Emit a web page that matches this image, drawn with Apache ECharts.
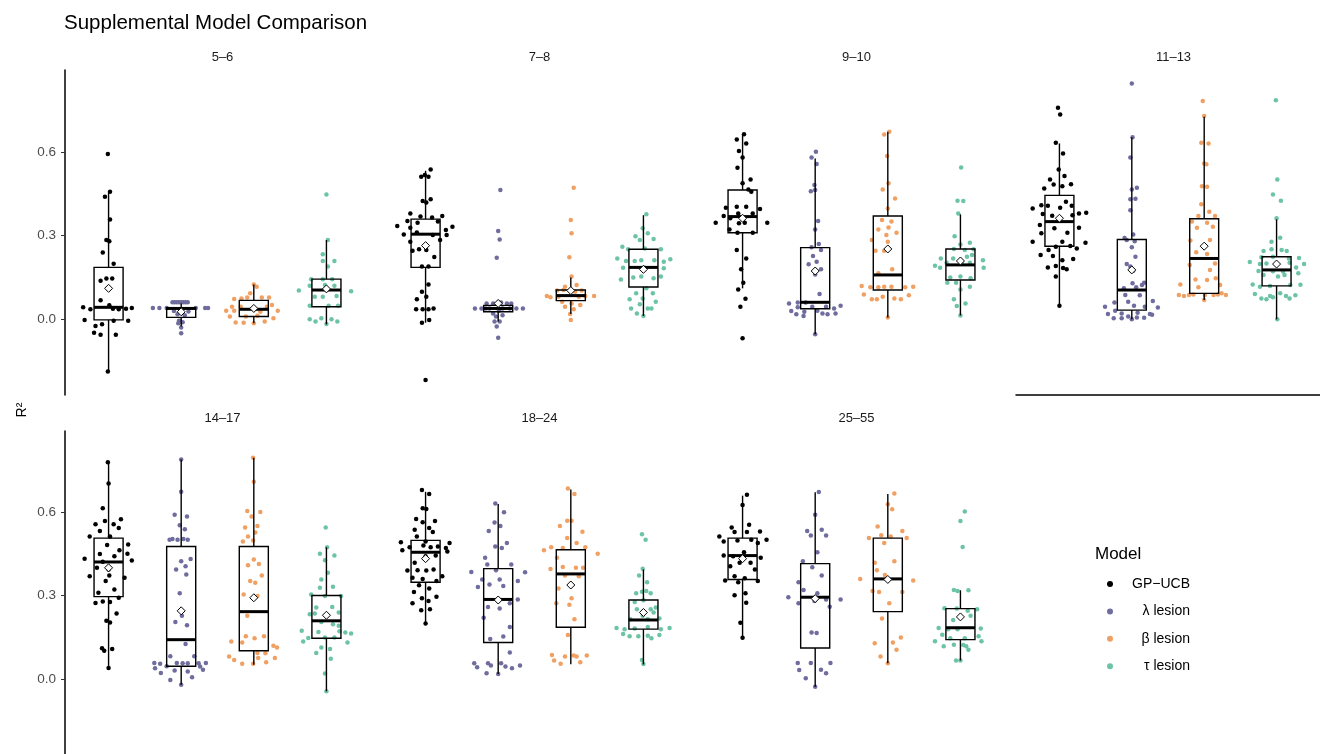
<!DOCTYPE html>
<html>
<head>
<meta charset="utf-8">
<script src="https://cdn.jsdelivr.net/npm/echarts@6/dist/echarts.min.js"></script>
<style>html,body{margin:0;padding:0;background:#fff}#c{width:1320px;height:754px}</style>
</head>
<body>
<div id="c"></div>
<script>
// ---------------- DATA ----------------
const panels = ['5–6', '7–8', '9–10', '11–13', '14–17', '18–24', '25–55'];
const models = ['GP−UCB', 'λ lesion', 'β lesion', 'τ lesion'];
const modelColors = ['#000000', '#6f6c9e', '#f0a062', '#6cc4a4'];
const yTicks = [0, 0.3, 0.6];

// points per panel: [jitter offset, R²]
const gpucbPoints = [
 [[-0.01,0.592],[0.02,0.457],[-0.05,0.439],[0.02,0.358],[-0.03,0.284],[0.01,0.280],[-0.08,0.239],[0.07,0.199],[-0.11,0.138],[-0.03,0.146],[0.05,0.146],[-0.11,0.068],[0.01,0.050],[-0.35,0.043],[-0.25,0.036],[0.14,0.036],[0.24,0.038],[0.32,0.041],[0.06,0.038],[-0.33,-0.002],[0.27,-0.005],[0.07,-0.005],[-0.09,-0.018],[-0.18,-0.024],[-0.2,-0.048],[-0.11,-0.055],[0.1,-0.055],[-0.01,-0.187]],
 [[0.07,0.537],[-0.01,0.517],[-0.06,0.511],[0.04,0.511],[-0.04,0.424],[0.07,0.430],[0.01,0.418],[-0.21,0.379],[-0.07,0.368],[0.09,0.365],[0.23,0.37],[-0.25,0.352],[-0.11,0.346],[0.17,0.35],[-0.39,0.334],[-0.21,0.328],[0.37,0.332],[0.28,0.32],[-0.3,0.304],[-0.12,0.311],[0.1,0.302],[0.29,0.302],[-0.21,0.278],[0.2,0.284],[-0.18,0.246],[-0.09,0.251],[0.01,0.248],[0.12,0.223],[-0.05,0.189],[0.04,0.189],[0.04,0.125],[-0.05,0.099],[0.01,0.081],[-0.12,0.072],[-0.13,0.036],[-0.04,0.036],[0.04,0.036],[0.11,0.039],[-0.05,-0.012],[0.05,-0.002],[0,-0.217]],
 [[0.02,0.663],[-0.08,0.644],[0.05,0.63],[-0.05,0.603],[0,0.58],[-0.07,0.543],[0.11,0.501],[0,0.487],[0.08,0.465],[0.12,0.457],[-0.23,0.4],[-0.08,0.403],[0.05,0.403],[0.24,0.395],[-0.26,0.37],[-0.17,0.362],[-0.06,0.379],[0.14,0.379],[-0.37,0.346],[-0.05,0.344],[0.03,0.346],[0.34,0.346],[-0.18,0.322],[-0.07,0.31],[0.14,0.31],[-0.08,0.248],[0.05,0.218],[-0.02,0.179],[0.01,0.131],[-0.06,0.107],[0.04,0.074],[-0.03,0.045],[0,-0.068]],
 [[-0.02,0.758],[0.01,0.734],[-0.05,0.632],[0.05,0.594],[-0.01,0.537],[0.07,0.513],[-0.13,0.501],[-0.21,0.469],[-0.08,0.483],[0.04,0.477],[0.16,0.484],[0.09,0.421],[-0.25,0.409],[-0.16,0.407],[0.17,0.407],[-0.37,0.397],[0.01,0.4],[0.37,0.382],[0.27,0.379],[-0.23,0.377],[-0.1,0.371],[0.18,0.373],[-0.27,0.338],[-0.07,0.326],[0.27,0.328],[-0.25,0.308],[0.11,0.31],[-0.37,0.278],[0.04,0.278],[0.36,0.274],[-0.15,0.248],[-0.05,0.26],[0.15,0.263],[0.24,0.254],[-0.26,0.23],[0.19,0.216],[-0.09,0.227],[0.04,0.212],[-0.16,0.186],[-0.05,0.191],[0.05,0.184],[0.1,0.179],[-0.05,0.153],[0,0.049]],
 [[-0.01,0.78],[0,0.704],[-0.08,0.615],[-0.05,0.569],[0.17,0.575],[0.07,0.557],[-0.18,0.557],[-0.12,0.533],[0.14,0.543],[-0.26,0.513],[0.02,0.513],[0.27,0.484],[-0.02,0.482],[-0.33,0.433],[-0.12,0.45],[0.08,0.442],[0.15,0.463],[0.26,0.451],[0.32,0.426],[-0.16,0.4],[-0.08,0.422],[0,0.394],[-0.26,0.37],[0.01,0.372],[0.22,0.364],[-0.04,0.352],[0.08,0.322],[-0.14,0.31],[-0.18,0.273],[-0.08,0.279],[0.02,0.277],[0.14,0.292],[0.11,0.235],[-0.03,0.209],[0.02,0.203],[-0.09,0.11],[-0.06,0.101],[0.05,0.107],[0,0.039]],
 [[-0.05,0.68],[0.05,0.666],[-0.04,0.615],[0.01,0.612],[-0.13,0.576],[0.13,0.569],[-0.04,0.564],[-0.15,0.537],[0.05,0.543],[0.1,0.529],[-0.12,0.513],[-0.34,0.492],[-0.22,0.474],[0,0.495],[-0.03,0.48],[0.17,0.477],[0.28,0.471],[0.33,0.489],[-0.32,0.463],[0.07,0.474],[0.3,0.459],[-0.15,0.418],[0,0.442],[0.14,0.444],[-0.25,0.39],[-0.11,0.391],[0.01,0.39],[0.11,0.394],[0.23,0.37],[-0.18,0.364],[-0.04,0.36],[0.15,0.352],[-0.09,0.337],[0.05,0.325],[-0.16,0.313],[-0.05,0.29],[0.15,0.296],[-0.18,0.272],[0.04,0.28],[-0.06,0.247],[0.06,0.251],[0,0.199]],
 [[0.06,0.663],[0,0.626],[-0.15,0.545],[0.09,0.555],[-0.32,0.513],[-0.11,0.529],[0.06,0.529],[0.24,0.531],[-0.26,0.495],[-0.07,0.498],[0.12,0.501],[0.33,0.501],[0.21,0.489],[-0.26,0.444],[-0.13,0.442],[0.02,0.456],[0.25,0.436],[-0.17,0.406],[-0.04,0.418],[0.11,0.418],[0.17,0.394],[-0.11,0.37],[0.03,0.362],[-0.24,0.354],[-0.06,0.348],[0.21,0.352],[-0.11,0.301],[0.04,0.308],[0.05,0.274],[-0.03,0.202],[0,0.148]]
];
const lambdaPoints = [
 [[-0.12,0.061],[-0.09,0.061],[-0.06,0.061],[-0.03,0.061],[0.0,0.061],[0.03,0.061],[0.06,0.061],[0.09,0.061],[-0.39,0.041],[-0.3,0.041],[-0.2,0.041],[0.2,0.041],[0.33,0.041],[0.37,0.041],[-0.1,0.03],[0.1,0.028],[-0.05,0.018],[0.05,0.015],[-0.03,-0.005],[0.02,-0.01],[-0.04,-0.014],[0.0,-0.029],[0.0,-0.05]],
 [[0.03,0.463],[0,0.316],[0.02,0.286],[-0.02,0.221],[-0.07,0.057],[0.04,0.06],[0.12,0.057],[0.18,0.057],[-0.32,0.039],[-0.23,0.039],[-0.17,0.039],[-0.12,0.039],[0.06,0.039],[0.16,0.039],[0.25,0.039],[0.34,0.039],[-0.07,0.021],[0.06,0.015],[-0.03,0.01],[-0.05,-0.008],[0.02,-0.008],[-0.02,-0.026],[0,-0.066],[-0.16,0.057],[0.01,0.031]],
 [[0.01,0.6],[-0.05,0.58],[0.02,0.556],[-0.01,0.481],[-0.06,0.459],[0,0.463],[0.04,0.352],[0,0.322],[0.05,0.27],[-0.05,0.258],[0.08,0.248],[-0.03,0.227],[0.02,0.206],[-0.09,0.197],[0.08,0.179],[0,0.161],[0.06,0.091],[-0.36,0.057],[-0.24,0.06],[-0.13,0.06],[-0.24,0.043],[-0.04,0.045],[0.15,0.045],[0.35,0.049],[-0.33,0.03],[-0.15,0.027],[0.03,0.031],[0.26,0.039],[-0.26,0.018],[-0.16,0.012],[0.1,0.021],[0.17,0.018],[0.28,0.021],[0,-0.053]],
 [[0,0.845],[0.01,0.652],[-0.02,0.58],[0,0.465],[0.07,0.471],[-0.02,0.43],[0.05,0.432],[-0.02,0.391],[0.02,0.304],[-0.1,0.291],[-0.07,0.284],[0.04,0.28],[0,0.258],[0.05,0.224],[-0.07,0.198],[0.02,0.174],[-0.02,0.189],[-0.11,0.111],[0.01,0.129],[0.14,0.123],[0.17,0.131],[0.06,0.115],[-0.09,0.087],[0.11,0.086],[-0.37,0.045],[-0.24,0.06],[-0.05,0.063],[0.03,0.049],[0.18,0.045],[0.29,0.066],[0.36,0.042],[-0.33,0.019],[-0.23,0.031],[-0.14,0.021],[0.08,0.024],[0.25,0.019],[0.28,0.016],[-0.25,0.004],[-0.14,0.004],[-0.05,0.01],[0.07,0.007],[0.17,0.006],[0,0.0]],
 [[0,0.79],[0,0.674],[-0.09,0.591],[0.08,0.585],[-0.02,0.553],[0.05,0.539],[-0.16,0.501],[-0.12,0.504],[-0.05,0.501],[0.03,0.504],[0.09,0.501],[0,0.424],[0.13,0.432],[-0.07,0.394],[0.06,0.406],[0.07,0.376],[-0.02,0.308],[-0.08,0.205],[0.08,0.193],[0.01,0.227],[0.06,0.125],[-0.15,0.081],[0.18,0.081],[-0.37,0.057],[-0.29,0.054],[-0.06,0.057],[0.02,0.056],[0.09,0.056],[0.24,0.056],[0.34,0.057],[-0.36,0.038],[-0.2,0.045],[-0.09,0.03],[0.09,0.026],[0.26,0.044],[0.3,0.033],[-0.28,0.021],[0.15,0.006],[-0.15,-0.004],[0,-0.021]],
 [[-0.04,0.632],[0.08,0.6],[-0.05,0.563],[0.03,0.551],[-0.13,0.533],[-0.04,0.477],[0.05,0.471],[0.12,0.489],[-0.18,0.436],[-0.15,0.412],[0.18,0.412],[-0.37,0.385],[-0.03,0.391],[0.37,0.384],[-0.22,0.358],[0.02,0.358],[0.27,0.352],[-0.28,0.331],[-0.12,0.34],[0.07,0.334],[0.27,0.286],[-0.14,0.259],[0.02,0.253],[0.16,0.272],[-0.2,0.22],[0.16,0.187],[-0.11,0.143],[0.07,0.152],[0.16,0.095],[-0.33,0.056],[-0.14,0.056],[0.04,0.056],[-0.29,0.042],[-0.1,0.048],[0.1,0.044],[0.19,0.038],[0.3,0.048],[-0.16,0.02],[0,0.017]],
 [[0.05,0.673],[0,0.591],[-0.11,0.533],[0.09,0.537],[-0.06,0.516],[0.15,0.516],[0.03,0.456],[-0.17,0.424],[-0.04,0.402],[0.09,0.372],[-0.23,0.348],[-0.16,0.32],[0.03,0.308],[-0.01,0.28],[0.15,0.286],[-0.37,0.294],[0.35,0.286],[0.2,0.26],[-0.23,0.272],[-0.05,0.167],[0.02,0.165],[-0.24,0.057],[-0.06,0.057],[0.21,0.057],[-0.22,0.032],[0.08,0.033],[0.15,0.02],[-0.13,0.002],[0,-0.029]]
];
const betaPoints = [
 [[0,0.125],[0.04,0.117],[-0.05,0.093],[-0.27,0.073],[-0.17,0.075],[-0.09,0.078],[0.11,0.078],[0.21,0.078],[-0.3,0.045],[-0.18,0.045],[0.18,0.045],[0.25,0.051],[-0.38,0.031],[-0.27,0.031],[0.09,0.027],[0.33,0.031],[-0.33,0.01],[-0.11,0.01],[0.05,0.013],[0.27,0.004],[-0.25,-0.011],[-0.14,-0.012],[0,-0.014],[0.15,-0.008]],
 [[0.04,0.471],[0,0.356],[0.01,0.308],[-0.02,0.222],[0.01,0.153],[-0.08,0.117],[0.08,0.123],[-0.19,0.103],[-0.1,0.105],[0.06,0.099],[0.15,0.103],[-0.33,0.084],[-0.28,0.079],[-0.17,0.081],[0.11,0.081],[0.2,0.084],[0.32,0.084],[-0.12,0.063],[0.01,0.057],[0.13,0.051],[-0.08,0.045],[0.04,0.036],[-0.01,0.019],[0,-0.002]],
 [[-0.05,0.662],[0.02,0.672],[-0.01,0.585],[0.01,0.487],[-0.07,0.465],[0.1,0.433],[0,0.397],[-0.08,0.356],[0.05,0.35],[-0.13,0.322],[0.01,0.329],[-0.02,0.302],[0.12,0.31],[-0.22,0.284],[0,0.278],[-0.17,0.246],[-0.05,0.246],[0.06,0.179],[-0.13,0.165],[-0.36,0.119],[-0.24,0.115],[-0.13,0.115],[-0.05,0.117],[0.05,0.117],[0.24,0.115],[0.35,0.117],[-0.33,0.089],[-0.22,0.072],[-0.15,0.072],[-0.07,0.081],[0.09,0.075],[0.18,0.072],[0.29,0.086],[0,0.007]],
 [[-0.02,0.782],[0,0.728],[-0.04,0.632],[0.06,0.63],[0,0.558],[0.03,0.555],[-0.03,0.477],[0.04,0.475],[-0.04,0.412],[0.07,0.385],[-0.08,0.37],[0.15,0.37],[-0.17,0.35],[0.04,0.346],[-0.1,0.328],[0.12,0.332],[-0.19,0.282],[0.08,0.284],[-0.11,0.24],[0.04,0.234],[-0.2,0.195],[0.15,0.2],[0.08,0.177],[-0.12,0.143],[0.04,0.141],[0.16,0.147],[-0.33,0.125],[-0.08,0.115],[0.22,0.123],[-0.35,0.087],[-0.28,0.084],[-0.21,0.087],[-0.15,0.089],[0.01,0.087],[0.13,0.087],[0.19,0.089],[0.3,0.087],[0.24,0.093],[0,0.069]],
 [[-0.01,0.797],[0,0.71],[-0.09,0.605],[0.09,0.601],[-0.03,0.585],[-0.12,0.545],[0.05,0.551],[-0.08,0.513],[0.02,0.527],[-0.15,0.495],[-0.01,0.498],[0,0.43],[0.07,0.414],[-0.08,0.409],[0.11,0.372],[-0.05,0.352],[0.02,0.346],[-0.14,0.304],[0.05,0.298],[-0.09,0.227],[-0.11,0.153],[0.01,0.146],[0.14,0.153],[-0.31,0.134],[-0.16,0.131],[0.27,0.119],[0.32,0.113],[-0.34,0.08],[-0.27,0.068],[0.05,0.093],[0.06,0.075],[0.16,0.092],[0.29,0.075],[-0.16,0.054],[-0.01,0.054],[0.17,0.06]],
 [[-0.04,0.686],[0.05,0.666],[-0.05,0.57],[0.01,0.57],[-0.15,0.551],[0.16,0.53],[-0.05,0.507],[0.08,0.489],[-0.37,0.463],[-0.27,0.474],[-0.11,0.471],[0.2,0.474],[0.37,0.451],[-0.19,0.436],[-0.28,0.396],[-0.11,0.403],[0.07,0.4],[0.17,0.4],[-0.08,0.372],[0.11,0.37],[-0.17,0.325],[0.01,0.29],[-0.2,0.272],[-0.02,0.267],[0.05,0.215],[-0.04,0.158],[-0.26,0.086],[-0.08,0.08],[0.04,0.084],[0.08,0.08],[0.22,0.084],[-0.23,0.066],[-0.14,0.054],[0.13,0.06]],
 [[0.09,0.668],[0,0.629],[0.06,0.611],[-0.14,0.549],[0.2,0.533],[-0.09,0.517],[0.04,0.513],[-0.26,0.507],[0.26,0.507],[-0.05,0.489],[-0.18,0.418],[0.09,0.424],[-0.15,0.391],[-0.04,0.374],[-0.38,0.36],[0.35,0.354],[-0.21,0.316],[-0.12,0.313],[0.2,0.313],[0.02,0.272],[-0.08,0.217],[0.18,0.149],[0.07,0.131],[-0.18,0.128],[0.12,0.105],[-0.1,0.08],[0,0.056]]
];
const tauPoints = [
 [[0,0.447],[0.02,0.284],[-0.05,0.233],[-0.05,0.209],[0.11,0.209],[0.02,0.189],[-0.21,0.144],[-0.05,0.144],[0.08,0.144],[-0.23,0.12],[-0.02,0.123],[0.11,0.12],[-0.38,0.103],[0.34,0.101],[-0.16,0.081],[-0.05,0.081],[0.14,0.084],[-0.23,0.049],[0.03,0.049],[0.16,0.049],[-0.23,0.0],[-0.07,0.004],[0.07,0.0],[-0.15,-0.008],[0,-0.017],[0.15,-0.008]],
 [[0.04,0.376],[-0.01,0.326],[-0.11,0.298],[0.06,0.308],[-0.05,0.284],[0.14,0.288],[-0.29,0.26],[-0.21,0.251],[0.02,0.254],[0.24,0.251],[-0.36,0.218],[-0.24,0.209],[-0.12,0.209],[-0.03,0.212],[0.15,0.212],[0.37,0.215],[0.28,0.206],[-0.28,0.185],[0.01,0.186],[0.28,0.183],[-0.14,0.15],[-0.03,0.153],[-0.31,0.143],[0.14,0.147],[0.24,0.153],[-0.1,0.093],[0.13,0.093],[0.04,0.111],[-0.19,0.072],[-0.01,0.075],[0.17,0.063],[-0.05,0.054],[0.06,0.039],[-0.17,0.039],[-0.09,0.021],[0.11,0.039],[0,0.012]],
 [[0.01,0.544],[-0.04,0.425],[0.04,0.424],[-0.03,0.379],[-0.08,0.298],[0,0.268],[0.13,0.274],[-0.09,0.252],[0.06,0.248],[0.18,0.251],[-0.27,0.218],[-0.1,0.218],[0.09,0.224],[0.16,0.23],[-0.35,0.192],[-0.19,0.203],[0.02,0.203],[0.13,0.203],[0.31,0.212],[-0.28,0.185],[0.32,0.185],[-0.14,0.15],[0,0.153],[0.14,0.147],[-0.18,0.131],[-0.06,0.131],[0.13,0.117],[0,0.107],[-0.09,0.072],[0.07,0.057],[-0.05,0.048],[0,0.014]],
 [[-0.01,0.785],[0.01,0.501],[-0.05,0.447],[0.06,0.425],[0,0.362],[-0.07,0.278],[0.05,0.292],[-0.18,0.245],[-0.07,0.251],[0.07,0.248],[0.14,0.245],[-0.21,0.222],[-0.05,0.224],[0.17,0.218],[0.31,0.22],[-0.37,0.205],[-0.23,0.198],[-0.14,0.2],[0.18,0.203],[0.38,0.198],[-0.25,0.173],[-0.05,0.172],[0.09,0.171],[0.27,0.186],[-0.18,0.159],[0.02,0.153],[0.11,0.159],[0.3,0.165],[-0.33,0.125],[-0.23,0.117],[-0.09,0.119],[0.19,0.123],[0.33,0.124],[-0.3,0.091],[-0.09,0.084],[0.05,0.093],[0.13,0.084],[0.26,0.086],[-0.21,0.075],[-0.14,0.072],[-0.05,0.079],[0.18,0.075],[0.01,0.0]],
 [[-0.01,0.545],[0.01,0.474],[-0.09,0.451],[0.11,0.444],[-0.02,0.427],[0.02,0.382],[-0.07,0.358],[0.09,0.332],[-0.09,0.328],[-0.21,0.304],[-0.02,0.298],[0.2,0.298],[-0.14,0.257],[0.08,0.259],[-0.16,0.235],[0.17,0.239],[-0.23,0.233],[-0.07,0.205],[0.17,0.191],[0.09,0.197],[-0.34,0.173],[-0.11,0.169],[0.18,0.171],[0.26,0.167],[0.34,0.163],[-0.32,0.134],[-0.25,0.147],[-0.02,0.149],[0.11,0.149],[0.29,0.131],[-0.07,0.113],[0.05,0.107],[-0.14,0.093],[0.06,0.072],[-0.02,0.019],[0,-0.045]],
 [[-0.02,0.521],[0.03,0.501],[-0.01,0.397],[-0.06,0.372],[0.05,0.348],[-0.02,0.314],[0.04,0.316],[0.1,0.308],[-0.1,0.308],[0,0.283],[0.17,0.257],[-0.12,0.277],[-0.09,0.251],[0.1,0.251],[0.14,0.239],[-0.01,0.227],[-0.18,0.215],[0.06,0.215],[0.22,0.217],[-0.37,0.183],[-0.26,0.179],[-0.12,0.181],[0.06,0.187],[0.24,0.179],[0.36,0.183],[-0.28,0.161],[-0.19,0.153],[-0.07,0.153],[0.06,0.155],[0.11,0.146],[0.22,0.158],[-0.02,0.068],[0,0.053]],
 [[0.06,0.603],[0,0.569],[0.03,0.475],[-0.09,0.32],[-0.04,0.316],[0.11,0.319],[-0.22,0.254],[-0.05,0.253],[0.1,0.245],[0.23,0.251],[-0.1,0.212],[0.14,0.227],[-0.3,0.183],[-0.17,0.179],[-0.04,0.179],[0.28,0.181],[-0.25,0.159],[-0.14,0.146],[0.06,0.146],[0.25,0.153],[-0.35,0.135],[-0.09,0.123],[0.04,0.122],[0.29,0.135],[-0.23,0.117],[0.08,0.117],[0.11,0.105],[-0.06,0.066],[0,0.066]]
];

// box stats per panel: [lower whisker, Q1, median, Q3, upper whisker]
const gpucbBox = [[-0.187,-0.002,0.043,0.186,0.457],[-0.012,0.186,0.305,0.359,0.532],[0.111,0.31,0.368,0.463,0.663],[0.049,0.262,0.35,0.444,0.63],[0.039,0.296,0.421,0.507,0.78],[0.199,0.348,0.456,0.499,0.674],[0.148,0.358,0.444,0.507,0.66]];
const lambdaBox = [[-0.026,0.007,0.039,0.042,0.057],[-0.008,0.027,0.039,0.05,0.069],[-0.053,0.038,0.061,0.257,0.576],[0.0,0.033,0.105,0.286,0.652],[-0.021,0.045,0.141,0.477,0.79],[0.017,0.131,0.286,0.397,0.63],[-0.029,0.111,0.294,0.415,0.672]];
const betaBox = [[-0.014,0.01,0.036,0.068,0.125],[0.019,0.067,0.085,0.105,0.15],[0.007,0.105,0.159,0.37,0.672],[0.069,0.093,0.218,0.36,0.726],[0.051,0.101,0.242,0.477,0.797],[0.052,0.186,0.378,0.465,0.682],[0.056,0.242,0.36,0.507,0.666]];
const tauBox = [[-0.018,0.045,0.105,0.144,0.284],[0.012,0.116,0.186,0.251,0.373],[0.014,0.141,0.195,0.252,0.376],[0.0,0.12,0.177,0.224,0.358],[-0.045,0.146,0.209,0.3,0.474],[0.052,0.179,0.212,0.284,0.394],[0.066,0.141,0.184,0.253,0.319]];

// means per panel
const gpucbMean = [0.111,0.264,0.362,0.362,0.4,0.433,0.433];
const lambdaMean = [0.027,0.057,0.173,0.177,0.245,0.284,0.289];
const betaMean = [0.039,0.103,0.252,0.262,0.292,0.338,0.358];
const tauMean = [0.109,0.179,0.209,0.198,0.229,0.239,0.223];

// ---------------- CHART ----------------
const allPoints = [gpucbPoints, lambdaPoints, betaPoints, tauPoints];
const allBoxes = [gpucbBox, lambdaBox, betaBox, tauBox];
const allMeans = [gpucbMean, lambdaMean, betaMean, tauMean];

const FONT = "'Liberation Sans', Arial, Helvetica, sans-serif";
const Y_MIN = -0.271, Y_MAX = 0.893;
const colLeft = [65, 382, 699, 1016];
const rowTop = [70, 431];
const W = 305, H = 325;

const grids = [], xAxes = [], yAxes = [], series = [], titles = [];
titles.push({text: 'Supplemental Model Comparison', left: 59, top: 8,
  textStyle: {fontFamily: FONT, fontSize: 20.5, fontWeight: 'normal', color: '#000'}});
titles.push({text: 'Model', left: 1090, top: 541,
  textStyle: {fontFamily: FONT, fontSize: 17, fontWeight: 'normal', color: '#000'}});

panels.forEach((p, i) => {
  const row = i < 4 ? 0 : 1, col = i < 4 ? i : i - 4;
  grids.push({left: colLeft[col], top: rowTop[row], width: W, height: H});
  titles.push({text: p, left: colLeft[col] + W / 2, top: rowTop[row] - 24, textAlign: 'center',
    textStyle: {fontFamily: FONT, fontSize: 13, fontWeight: 'normal', color: '#1a1a1a'}});
  const showX = (i === 3);
  xAxes.push({type: 'value', gridIndex: i, min: 0.4, max: 4.6, show: showX,
    axisLine: {show: showX, onZero: false, lineStyle: {color: '#000', width: 1.5}},
    axisTick: {show: false}, axisLabel: {show: false}, splitLine: {show: false}});
  const showY = (col === 0);
  yAxes.push({type: 'value', gridIndex: i, min: Y_MIN, max: Y_MAX, show: showY,
    axisLine: {show: showY, lineStyle: {color: '#000', width: 1.5}},
    axisTick: {show: showY, length: 4, customValues: yTicks, lineStyle: {color: '#333', width: 1}},
    axisLabel: {show: showY, customValues: yTicks, margin: 9, color: '#4d4d4d', fontSize: 13.5, fontFamily: FONT,
      formatter: v => Number(v).toFixed(1)},
    splitLine: {show: false}});

  models.forEach((m, k) => {
    series.push({type: 'scatter', name: m, xAxisIndex: i, yAxisIndex: i,
      data: allPoints[k][i].map(d => [k + 1 + d[0], d[1]]),
      symbol: 'circle', symbolSize: 4.5, itemStyle: {color: modelColors[k], opacity: 1},
      z: 2, silent: true});
  });
  series.push({type: 'custom', name: 'box', xAxisIndex: i, yAxisIndex: i, z: 3, silent: true,
    data: allBoxes.map((b, k) => [k + 1].concat(b[i])),
    encode: {x: 0, y: [1, 2, 3, 4, 5]},
    renderItem: (params, api) => {
      const x = api.value(0);
      const pMin = api.coord([x, api.value(1)]);
      const pQ1 = api.coord([x, api.value(2)]);
      const pMed = api.coord([x, api.value(3)]);
      const pQ3 = api.coord([x, api.value(4)]);
      const pMax = api.coord([x, api.value(5)]);
      const l = api.coord([x - 0.2, 0])[0], r = api.coord([x + 0.2, 0])[0];
      const st = {stroke: '#000', lineWidth: 1.4, fill: null};
      return {type: 'group', children: [
        {type: 'line', shape: {x1: pMax[0], y1: pMax[1], x2: pQ3[0], y2: pQ3[1]}, style: st},
        {type: 'line', shape: {x1: pQ1[0], y1: pQ1[1], x2: pMin[0], y2: pMin[1]}, style: st},
        {type: 'rect', shape: {x: l, y: pQ3[1], width: r - l, height: pQ1[1] - pQ3[1]}, style: {stroke: '#000', lineWidth: 1.4, fill: 'rgba(0,0,0,0)'}},
        {type: 'line', shape: {x1: l, y1: pMed[1], x2: r, y2: pMed[1]}, style: {stroke: '#000', lineWidth: 3}}
      ]};
    }});
  series.push({type: 'scatter', name: 'mean', xAxisIndex: i, yAxisIndex: i, z: 4, silent: true,
    data: allMeans.map((mm, k) => [k + 1, mm[i]]),
    symbol: 'diamond', symbolSize: 8,
    itemStyle: {color: '#fff', borderColor: '#000', borderWidth: 1, opacity: 1}});
});

const chart = echarts.init(document.getElementById('c'), null, {renderer: 'canvas'});
chart.setOption({
  animation: false,
  backgroundColor: '#fff',
  title: titles,
  grid: grids,
  xAxis: xAxes,
  yAxis: yAxes,
  legend: {
    data: models, orient: 'vertical', left: 1102, top: 572,
    icon: 'circle', itemWidth: 6, itemHeight: 6, itemGap: 13.4, selectedMode: false,
    formatter: n => '{a|' + n + '}',
    textStyle: {fontFamily: FONT, fontSize: 14, color: '#000', lineHeight: 14,
      rich: {a: {width: 72, align: 'right', fontFamily: FONT, fontSize: 14, lineHeight: 14, color: '#000'}}}
  },
  graphic: [{type: 'text', x: 22, y: 410, rotation: Math.PI / 2,
    style: {text: 'R²', fontFamily: FONT, fontSize: 14, fill: '#000', textAlign: 'center', textVerticalAlign: 'middle'}}],
  series: series
});
</script>
</body>
</html>
